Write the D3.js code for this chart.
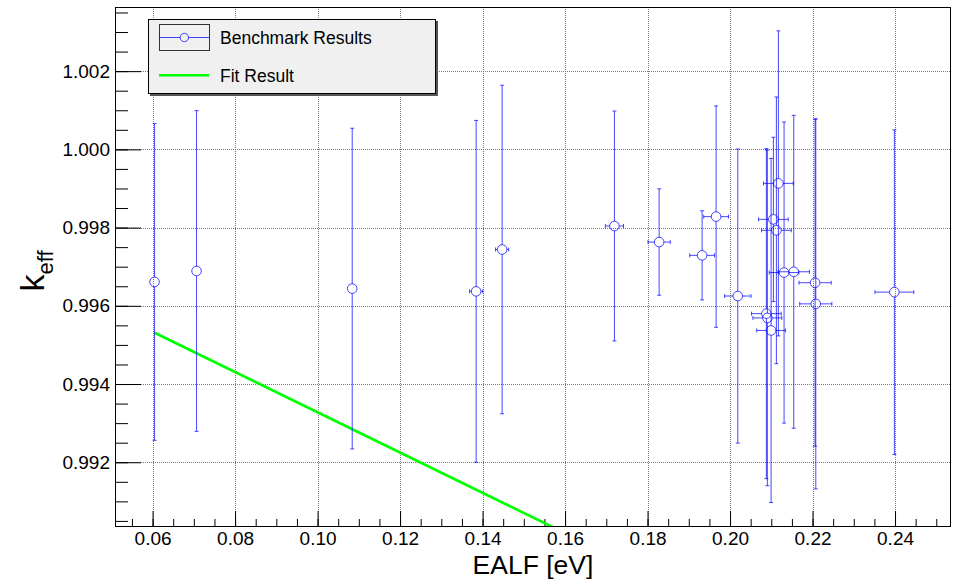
<!DOCTYPE html>
<html>
<head>
<meta charset="utf-8">
<script src="https://cdn.jsdelivr.net/npm/d3@7"></script>
<style>
  html, body { margin:0; padding:0; background:#fff; }
  svg { display:block; font-family:"Liberation Sans", Arial, Helvetica, sans-serif; }
  .tick text { fill:#000; }
</style>
</head>
<body>
<div id="chart"></div>
<script>
// ====== data
const EALF     = [0.06048, 0.07066, 0.1084, 0.13845, 0.14475, 0.17197, 0.18281, 0.19323, 0.19662, 0.20188,
                  0.20881, 0.20905, 0.20995, 0.21051, 0.21124, 0.21172, 0.2131, 0.21545, 0.22062, 0.22079, 0.23984];
const EALF_ERR = [0.0002, 0.0002, 0.0002, 0.0016, 0.0016, 0.0022, 0.0027, 0.003, 0.003, 0.0032,
                  0.0036, 0.0035, 0.0035, 0.0036, 0.0036, 0.0036, 0.0036, 0.0038, 0.0039, 0.0039, 0.0047];
const KEFF     = [0.99661, 0.99689, 0.99644, 0.99637, 0.99744, 0.99804, 0.99763, 0.99729, 0.99828, 0.99625,
                  0.9958, 0.99569, 0.99537, 0.99821, 0.99793, 0.99913, 0.99685, 0.99687, 0.99659, 0.99605, 0.99635];
const KEFF_ERR = [0.00405, 0.0041, 0.0041, 0.00437, 0.0042, 0.00294, 0.00136, 0.00114, 0.00283, 0.00376,
                  0.00422, 0.00429, 0.0044, 0.0021, 0.00341, 0.0039, 0.00385, 0.004, 0.00418, 0.00473, 0.00415];

// fit line end points
const FIT_X = [0.06048, 0.23984];
const FIT_Y = [0.99531, 0.98608];

// axes
const X_DOMAIN = [0.05089, 0.25357];
const Y_DOMAIN = [0.99037, 1.00364];
const X_TICKS  = [0.06, 0.08, 0.10, 0.12, 0.14, 0.16, 0.18, 0.20, 0.22, 0.24];
const Y_TICKS  = [0.992, 0.994, 0.996, 0.998, 1.000, 1.002];
const LEGEND_LABELS = ["Benchmark Results", "Fit Result"];
const X_TITLE = "EALF [eV]";

// ====== layout
const W = 957, H = 579, M = {t:7, r:6, b:53, l:115};
const BLUE = "#0000ff", GREEN = "#00ff00";
const R = 4.8;

const svg = d3.select("#chart").append("svg")
  .attr("width", W).attr("height", H).attr("viewBox", [0,0,W,H]);

const x = d3.scaleLinear().domain(X_DOMAIN).range([M.l, W - M.r]);
const y = d3.scaleLinear().domain(Y_DOMAIN).range([H - M.b, M.t]);

// clip
svg.append("clipPath").attr("id","plotclip")
  .append("rect").attr("x", M.l).attr("y", M.t)
  .attr("width", W - M.r - M.l).attr("height", H - M.b - M.t);

// ====== grid
const grid = svg.append("g").attr("stroke","#7a7a7a").attr("stroke-dasharray","1,1").attr("stroke-width",1);
X_TICKS.forEach(v => grid.append("line")
  .attr("x1", Math.round(x(v)) + 0.5).attr("x2", Math.round(x(v)) + 0.5)
  .attr("y1", M.t).attr("y2", H - M.b));
Y_TICKS.forEach(v => grid.append("line")
  .attr("y1", Math.round(y(v)) + 0.5).attr("y2", Math.round(y(v)) + 0.5)
  .attr("x1", M.l).attr("x2", W - M.r));

// ====== axes (ticks inward, ROOT style)
const xMinor = d3.range(0.055, X_DOMAIN[1], 0.005).filter(v => v > X_DOMAIN[0]);
const yMinor = d3.range(0.9905, Y_DOMAIN[1], 0.0005).filter(v => v > Y_DOMAIN[0]);

svg.append("g").attr("transform", `translate(0,${H - M.b})`)
  .call(d3.axisBottom(x).tickValues(xMinor).tickSize(-7).tickSizeOuter(0).tickFormat(""))
  .call(g => g.select(".domain").remove());
svg.append("g").attr("transform", `translate(0,${H - M.b})`)
  .call(d3.axisBottom(x).tickValues(X_TICKS).tickSize(-15).tickSizeOuter(0).tickPadding(6).tickFormat(d3.format(".2f")))
  .call(g => g.select(".domain").remove())
  .call(g => g.selectAll("text").attr("font-size", 19).attr("font-family", null));

svg.append("g").attr("transform", `translate(${M.l},0)`)
  .call(d3.axisLeft(y).tickValues(yMinor).tickSize(-13).tickSizeOuter(0).tickFormat(""))
  .call(g => g.select(".domain").remove());
svg.append("g").attr("transform", `translate(${M.l},0)`)
  .call(d3.axisLeft(y).tickValues(Y_TICKS).tickSize(-26).tickSizeOuter(0).tickPadding(5).tickFormat(d3.format(".3f")))
  .call(g => g.select(".domain").remove())
  .call(g => g.selectAll("text").attr("font-size", 19).attr("font-family", null));

// frame
svg.append("rect").attr("x", M.l + 0.5).attr("y", M.t + 0.5)
  .attr("width", W - M.r - M.l - 1).attr("height", H - M.b - M.t)
  .attr("fill","none").attr("stroke","#000").attr("stroke-width",1);

// axis titles
svg.append("text").attr("x", (M.l + W - M.r)/2).attr("y", 574)
  .attr("text-anchor","middle").attr("font-size", 26.5).text(X_TITLE);

const yt = svg.append("text").attr("transform","translate(44,271) rotate(-90)")
  .attr("text-anchor","middle").attr("font-size", 34);
yt.append("tspan").text("k");
yt.append("tspan").attr("font-size", 22).attr("dy", 9).text("eff");

// ====== fit line
svg.append("line").attr("clip-path","url(#plotclip)")
  .attr("x1", x(FIT_X[0])).attr("y1", y(FIT_Y[0]))
  .attr("x2", x(FIT_X[1])).attr("y2", y(FIT_Y[1]))
  .attr("stroke", GREEN).attr("stroke-width", 2.6);

// ====== points with error bars
const pts = EALF.map((e,i) => ({x:e, ex:EALF_ERR[i], k:KEFF[i], ek:KEFF_ERR[i]}));
const gp = svg.append("g").attr("clip-path","url(#plotclip)")
  .attr("stroke", BLUE).attr("stroke-opacity", 0.72).attr("fill","none").attr("stroke-width",1);

pts.forEach(d => {
  const cx = x(d.x), cy = y(d.k);
  const yTop = y(d.k + d.ek), yBot = y(d.k - d.ek);
  const xL = x(d.x - d.ex), xR = x(d.x + d.ex);
  const segs = [];
  if (cy - R > yTop) segs.push([cx, yTop, cx, cy - R], [cx - 2, yTop, cx + 2, yTop]);
  if (yBot > cy + R) segs.push([cx, cy + R, cx, yBot], [cx - 2, yBot, cx + 2, yBot]);
  if (cx - R > xL) segs.push([xL, cy, cx - R, cy], [xL, cy - 2, xL, cy + 2]);
  if (xR > cx + R) segs.push([cx + R, cy, xR, cy], [xR, cy - 2, xR, cy + 2]);
  segs.forEach(s => gp.append("line")
    .attr("x1", s[0]).attr("y1", s[1]).attr("x2", s[2]).attr("y2", s[3]));
  gp.append("circle").attr("cx", cx).attr("cy", cy).attr("r", R);
});

// ====== legend
const lg = svg.append("g");
lg.append("rect").attr("x", 150).attr("y", 21).attr("width", 288).attr("height", 75).attr("fill", "#555");
lg.append("rect").attr("x", 148.5).attr("y", 19.5).attr("width", 287).attr("height", 74)
  .attr("fill", "#f0f0f0").attr("stroke", "#000");
lg.append("rect").attr("x", 159.5).attr("y", 24.5).attr("width", 50).attr("height", 26)
  .attr("fill", "none").attr("stroke", "#333");
lg.append("line").attr("x1", 159).attr("x2", 209).attr("y1", 37.5).attr("y2", 37.5)
  .attr("stroke", BLUE).attr("stroke-opacity", 0.72);
lg.append("circle").attr("cx", 184.3).attr("cy", 37.5).attr("r", 4.2)
  .attr("fill", "#f0f0f0").attr("stroke", BLUE).attr("stroke-opacity", 0.72);
lg.append("line").attr("x1", 159).attr("x2", 209).attr("y1", 75.3).attr("y2", 75.3)
  .attr("stroke", GREEN).attr("stroke-width", 2.6);
LEGEND_LABELS.forEach((t,i) => lg.append("text")
  .attr("x", 220).attr("y", i ? 82.3 : 44.3).attr("font-size", 17.5).text(t));
</script>
</body>
</html>
